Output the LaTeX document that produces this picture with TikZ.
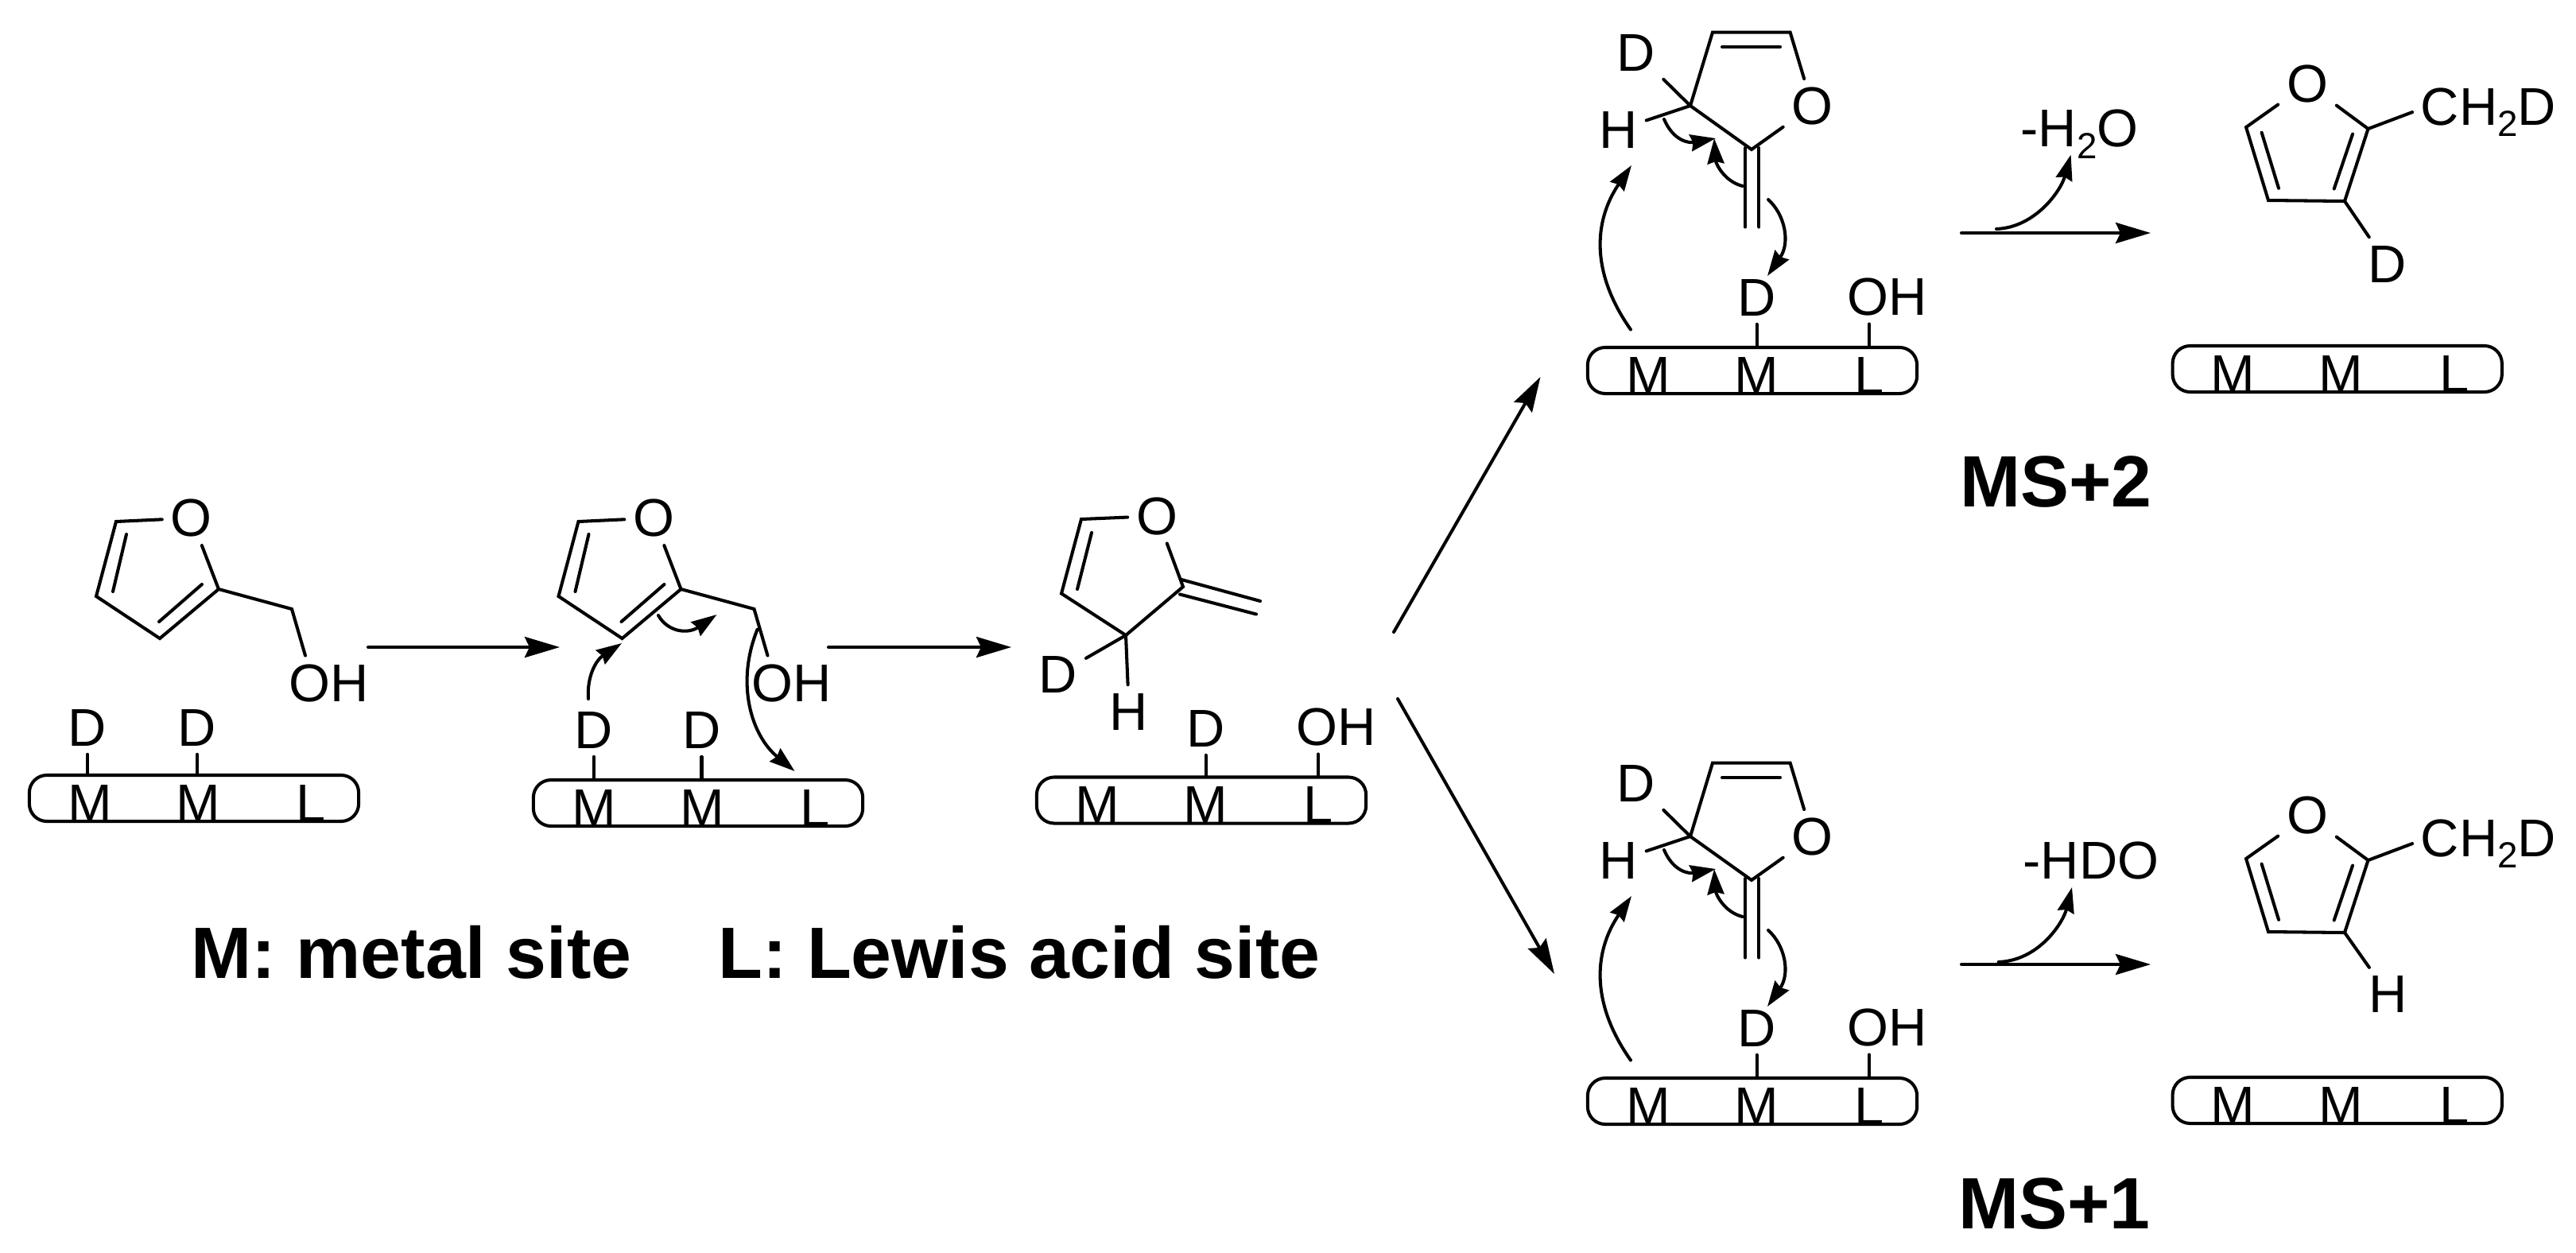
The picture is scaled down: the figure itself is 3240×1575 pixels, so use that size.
\documentclass[tikz,border=0pt]{standalone}
\usepackage{fontspec}
\setmainfont{Liberation Sans}
\usetikzlibrary{arrows.meta}
\newcommand{\subtwo}{\raisebox{-4.2pt}{\fontsize{13}{13}\selectfont 2}}
\tikzset{
  atom/.style={inner sep=2.5pt,font=\fontsize{19}{22}\selectfont},
  heading/.style={inner sep=0pt,anchor=base,font=\fontsize{26}{30}\selectfont\bfseries},
  bar/.style={draw,rounded corners=.22cm,minimum width=4.14cm,minimum height=.58cm,inner sep=0pt},
  curly/.style={-{Stealth[length=.32cm,width=.21cm,inset=.03cm]}},
  sites/.pic={
    \node[bar] (-bar) at (0,0) {};
    \node[atom,anchor=base] (-m1) at (-131,29) {M};
    \node[atom,anchor=base] (-m2) at (5,29) {M};
    \node[atom,anchor=base] (-l) at (147,29) {L};
  },
  furfuryl/.pic={
    \coordinate (-c5) at (146,656);
    \coordinate (-c4) at (121,750);
    \coordinate (-c3) at (201,803);
    \coordinate (-c2) at (275,741);
    \coordinate (-ch) at (367,766);
    \node[atom] (-o) at (240.6,651.6) {O};
    \node[atom,anchor=base] (-oh) at (414,882) {OH};
    \draw (-o)--(-c5)--(-c4)--(-c3)--(-c2)--(-o);
    \draw (-c2)--(-ch)--([xshift=-.3cm]-oh.north);
    \draw (159,672)--(142,744);
    \draw (254,735)--(200,782);
  },
  adduct/.pic={
    \coordinate (-c3) at (2126,133);
    \coordinate (-c4) at (2154,40.6);
    \coordinate (-c5) at (2251.6,40.6);
    \coordinate (-c2) at (2203,188);
    \node[atom] (-o) at (2279.5,133.5) {O};
    \node[atom,anchor=base] (-d) at (2058,89) {D};
    \node[atom,anchor=base] (-h) at (2035.7,186) {H};
    \draw (-o)--(-c5)--(-c4)--(-c3)--(-c2)--(-o);
    \draw (-c3)--(-d);
    \draw (-c3)--(-h);
    \draw (2166,59)--(2239,59);
    \draw (2195,186)--(2195,285.5);
    \draw (2212.4,186)--(2212.4,285.5);
    \draw[curly] (2093,150) .. controls (2105,178) and (2125,180) .. (2158,174);
    \draw[curly] (2191.7,234) .. controls (2168,228) and (2158,205) .. (2156,174);
    \draw[curly] (2224,251) .. controls (2245,270) and (2252,305) .. (2223,347);
    \draw[curly] (2051,414.5) .. controls (2002,345) and (2003,280) .. (2052,208);
  },
  product/.pic={
    \coordinate (-c5) at (2825,160);
    \coordinate (-c4) at (2853,252);
    \coordinate (-c3) at (2949,253);
    \coordinate (-c2) at (2978.5,162);
    \node[atom] (-o) at (2902,105.5) {O};
    \node[atom,anchor=base] (-me) at (3130,157) {CH\subtwo D};
    \draw (-o)--(-c5)--(-c4)--(-c3)--(-c2)--(-o);
    \draw (-c2)--(-me.west);
    \draw (2844.6,166.7)--(2866,236.8);
    \draw (2959,168.6)--(2935.7,237.5);
  },
}
\begin{document}
\begin{tikzpicture}[x=.01cm,y=-.01cm,line width=1.15pt,line cap=round,>={Stealth[length=.44cm,width=.26cm,inset=.06cm]}]
\useasboundingbox (0,0) rectangle (3240,1575);
% first two stages
\pic (fa) at (0,0) {furfuryl};
\pic (fb) at (581.5,0) {furfuryl};
\pic (sa) at (244,1004) {sites};
\pic (sb) at (878,1010) {sites};
\node[atom,anchor=base] (da) at (110,938) {D};
\node[atom,anchor=base] (db) at (248,938) {D};
\node[atom,anchor=base] (dc) at (747,941) {D};
\node[atom,anchor=base] (dd) at (882.5,941) {D};
\draw (da)--(da|-sa-bar.north);
\draw (db)--(db|-sa-bar.north);
\draw (dc)--(dc|-sb-bar.north);
\draw (dd)--(dd|-sb-bar.north);
\draw[curly] (740,879) .. controls (738,850) and (750,830) .. (782,809);
\draw[curly] (828,774) .. controls (840,795) and (865,798) .. (901.5,773);
\draw[curly] (952.6,791.6) .. controls (925,860) and (945,925) .. (999.6,970);
% third stage
\coordinate (rc5) at (1360,653);
\coordinate (rc4) at (1335,746.5);
\coordinate (rc3) at (1416,799);
\coordinate (rc2) at (1488,738);
\node[atom] (ro) at (1455,649) {O};
\node[atom,anchor=base] (rd) at (1331,871) {D};
\node[atom,anchor=base] (rh) at (1420,918) {H};
\draw (ro)--(rc5)--(rc4)--(rc3)--(rc2)--(ro);
\draw (rc3)--(rd);
\draw (rc3)--(rh);
\draw (1373,670)--(1355,741);
\draw (1486,729)--(1585,756);
\draw (1484,747.5)--(1580,772.5);
\pic (sc) at (1511,1006.5) {sites};
\node[atom,anchor=base] (de) at (1516.5,939) {D};
\node[atom,anchor=base] (oa) at (1681,937) {OH};
\draw (de)--(de|-sc-bar.north);
\draw ([xshift=-.23cm]oa.south)--([xshift=-.23cm]oa.south|-sc-bar.north);
% both branches
\foreach \nm/\dy in {up/0,dn/919}{
  \pic (\nm) at (0,\dy) {adduct};
  \pic (s\nm) at (2204,466+\dy) {sites};
  \node[atom,anchor=base] (d\nm) at (2209.5,397+\dy) {D};
  \node[atom,anchor=base] (o\nm) at (2374,396+\dy) {OH};
  \draw (d\nm)--(d\nm|-s\nm-bar.north);
  \draw ([xshift=-.23cm]o\nm.south)--([xshift=-.23cm]o\nm.south|-s\nm-bar.north);
}
\pic (pu) at (0,0) {product};
\pic (pd) at (0,920) {product};
\pic (su) at (2939.7,464) {sites};
\pic (sd) at (2939.7,1384) {sites};
\node[atom,anchor=base] (xd) at (3002.7,355) {D};
\node[atom,anchor=base] (xh) at (3003.7,1273.6) {H};
\draw (pu-c3)--(xd);
\draw (pd-c3)--(xh);
\node[atom,anchor=base] (lossa) at (2615.6,184.7) {-H\subtwo O};
\node[atom,anchor=base] (lossb) at (2630,1105) {-HDO};
% reaction arrows
\coordinate (aa) at (463,814);
\coordinate (ab) at (704,814);
\coordinate (ac) at (1042,814);
\coordinate (ad) at (1272,814);
\coordinate (ae) at (1753,795);
\coordinate (af) at (1937.5,474);
\coordinate (ag) at (1758,879);
\coordinate (ah) at (1955,1225);
\coordinate (ai) at (2467,293);
\coordinate (aj) at (2705,293);
\coordinate (ak) at (2467,1213);
\coordinate (al) at (2705,1213);
\draw[->] (aa)--(ab);
\draw[->] (ac)--(ad);
\draw[->] (ae)--(af);
\draw[->] (ag)--(ah);
\draw[->] (ai)--(aj);
\draw[->] (ak)--(al);
\draw[curly] (2511,288) .. controls (2560,286) and (2592,240) .. (2604.6,194.6);
\draw[curly] (2513.6,1210) .. controls (2565,1208) and (2595,1160) .. (2606,1116);
% captions
\node[heading] (capa) at (517.5,1230.5) {M: metal site};
\node[heading] (capb) at (1282,1230.5) {L: Lewis acid site};
\node[heading] (msa) at (2586,637) {MS+2};
\node[heading] (msb) at (2584,1545) {MS+1};
\end{tikzpicture}
\end{document}
